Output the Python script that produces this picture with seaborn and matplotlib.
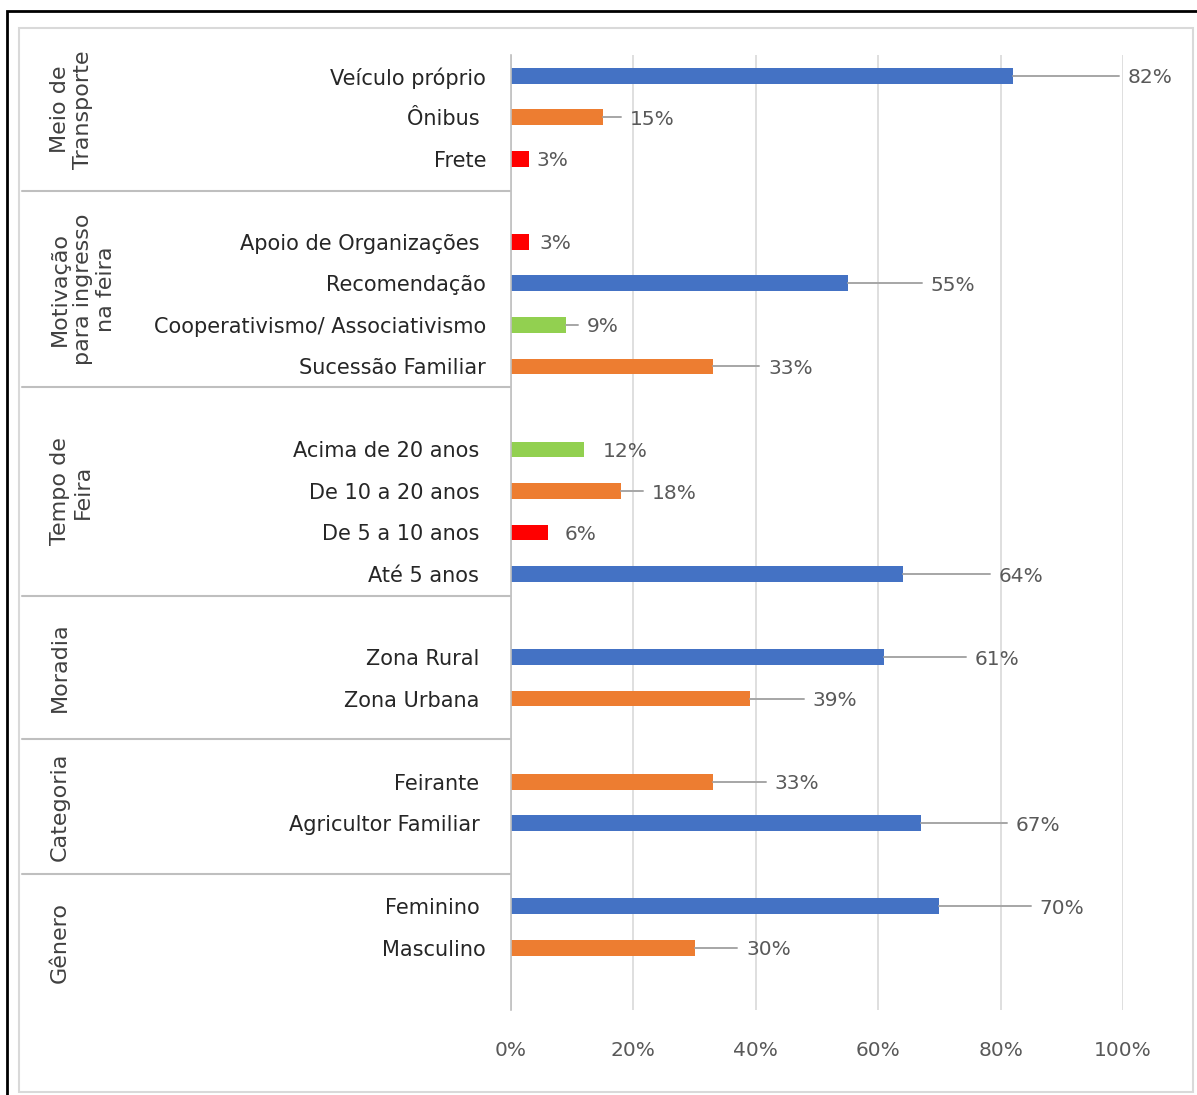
import numpy as np
import pandas as pd
import matplotlib
matplotlib.use('Agg')
import matplotlib.pyplot as plt
import matplotlib.transforms as mtransforms
from matplotlib.patches import Rectangle
import seaborn as sns

# Data (percent of respondents)
groups = ['Meio de\nTransporte', 'Motivação\npara ingresso\nna feira', 'Tempo de\nFeira',
          'Moradia', 'Categoria', 'Gênero']
group_sizes = [3, 4, 4, 2, 2, 2]
categories = ['Veículo próprio', 'Ônibus ', 'Frete',
              'Apoio de Organizações ', 'Recomendação', 'Cooperativismo/ Associativismo', 'Sucessão Familiar',
              'Acima de 20 anos ', 'De 10 a 20 anos ', 'De 5 a 10 anos ', 'Até 5 anos ',
              'Zona Rural ', 'Zona Urbana ',
              'Feirante ', 'Agricultor Familiar ',
              'Feminino ', 'Masculino']
values = [82, 15, 3, 3, 55, 9, 33, 12, 18, 6, 64, 61, 39, 33, 67, 70, 30]
bar_colors = ['azul', 'laranja', 'vermelho',
              'vermelho', 'azul', 'verde', 'laranja',
              'verde', 'laranja', 'vermelho', 'azul',
              'azul', 'laranja',
              'laranja', 'azul',
              'azul', 'laranja']
tick_values = [0, 20, 40, 60, 80, 100]

# layout: how far (in % points) each data label sits right of its bar end
label_offset = [18.8, 4.4, 1.2, 1.7, 13.5, 3.4, 9.0, 3.0, 5.0, 2.7, 15.7, 14.7, 10.2, 10.1, 15.5, 16.4, 8.4]
# small shifts of the group separators relative to the blank slot
sep_shift = [-0.23, -0.51, -0.47, -0.02, 0.23]

palette = {'azul': '#4472C4', 'laranja': '#ED7D31', 'vermelho': '#FF0000', 'verde': '#92D050'}

# slot positions: one blank slot after every group
pos, blanks = [], []
p = 0
for n in group_sizes:
    pos.extend(range(p, p + n))
    p += n
    blanks.append(p)
    p += 1

df = pd.DataFrame({'categoria': categories, 'valor': values, 'cor': bar_colors, 'pos': pos})

sns.set_theme(style='white')
narrow = ['Liberation Sans Narrow', 'DejaVu Sans Condensed', 'DejaVu Sans']
plt.rcParams['font.family'] = narrow

fig = plt.figure(figsize=(11.97, 10.95), dpi=100)
ax = fig.add_axes([511 / 1197, 1 - 1010 / 1095, 612 / 1197, 955 / 1095])

sns.barplot(data=df, x='valor', y='pos', hue='cor', palette=palette, orient='h',
            native_scale=True, dodge=False, width=0.38, saturation=1,
            linewidth=0, legend=False, ax=ax)

ax.set_xlim(0, 100)
ax.set_ylim(len(pos) + len(blanks) - 0.5, -0.5)
ax.set_xticks(tick_values, [f'{v}%' for v in tick_values])
ax.set_yticks(pos, categories)
ax.set_xlabel('')
ax.set_ylabel('')
ax.grid(axis='x', color='#D9D9D9', lw=1.2)
ax.grid(axis='y', visible=False)
for s in ['top', 'right', 'bottom']:
    ax.spines[s].set_visible(False)
ax.spines['left'].set_color('#BFBFBF')
ax.spines['left'].set_linewidth(1.2)
ax.tick_params(axis='x', length=0, pad=22, labelsize=14.5, labelcolor='#595959')
ax.tick_params(axis='y', length=0, pad=18, labelsize=15, labelcolor='#262626')

# data labels with leader lines
for v, y, off in zip(values, pos, label_offset):
    ax.text(v + off, y + 0.05, f'{v}%', ha='left', va='center', fontsize=14.5,
            color='#595959', family=narrow)
    if off > 3.2:
        ax.plot([v, v + off - 1.4], [y, y], color='#A6A6A6', lw=1.4, clip_on=False)

# group separators and group titles in the label column
blend = mtransforms.blended_transform_factory(fig.transFigure, ax.transData)
seps = [b + s for b, s in zip(blanks[:-1], sep_shift)]
for s in seps:
    ax.plot([22 / 1197, 510 / 1197], [s, s], color='#BFBFBF', lw=1.5,
            transform=blend, clip_on=False)

top = (28 - 55) / (955 / 23) - 0.5
bounds = [top] + seps + [len(pos) + len(blanks) - 0.5]
for g, a, b in zip(groups, bounds[:-1], bounds[1:]):
    ax.text(50 / 1197, (a + b) / 2, g, rotation=90, ha='left', va='center',
            multialignment='center', fontsize=16, color='#404040',
            family=['DejaVu Sans'], transform=blend)

# chart area border and outer frame
fig.patches.append(Rectangle((19 / 1197, 3 / 1095), 1174 / 1197, 1064 / 1095,
                             transform=fig.transFigure, fill=False,
                             edgecolor='#D9D9D9', lw=1.5))
fig.patches.append(Rectangle((7 / 1197, -0.1), 1.2, 1.1 - 11 / 1095,
                             transform=fig.transFigure, fill=False,
                             edgecolor='black', lw=2))

fig.savefig('out.png', dpi=100, facecolor='white')
